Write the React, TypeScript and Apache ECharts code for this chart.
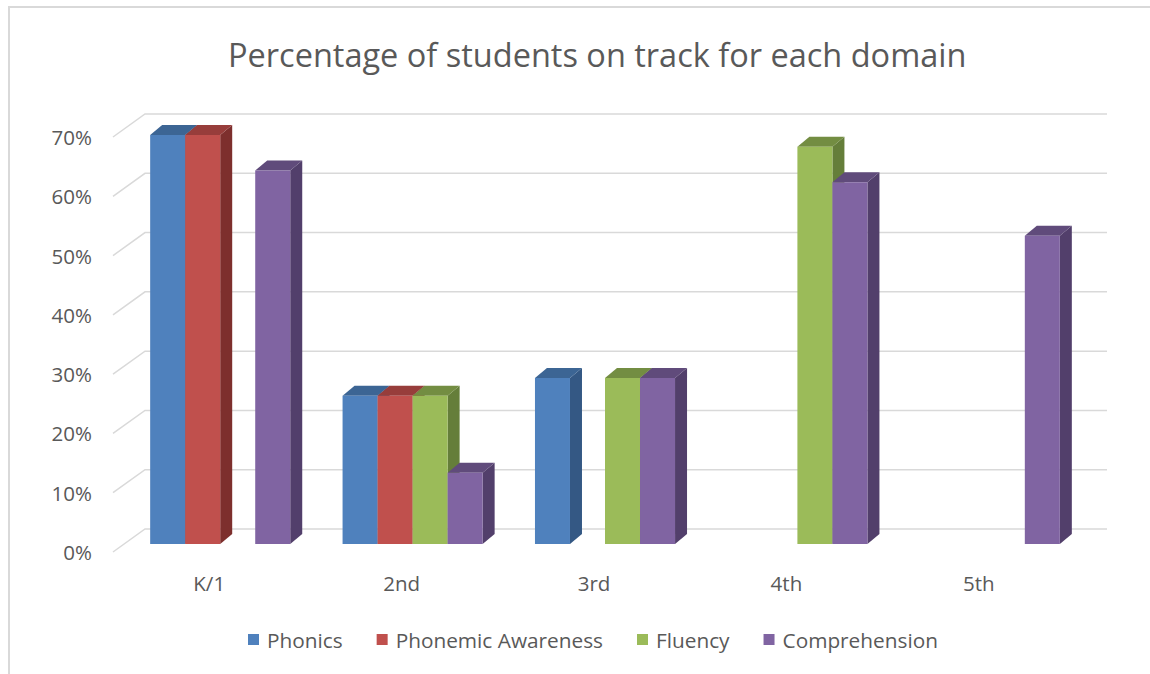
import React, { useEffect, useRef } from "react";
import * as echarts from "echarts";

const categories = ["K/1", "2nd", "3rd", "4th", "5th"];
const seriesNames = ["Phonics", "Phonemic Awareness", "Fluency", "Comprehension"];
const phonics = [0.69, 0.25, 0.28, null, null];
const phonemicAwareness = [0.69, 0.25, null, null, null];
const fluency = [null, 0.25, 0.28, 0.67, null];
const comprehension = [0.63, 0.12, 0.28, 0.61, 0.52];
const yTicks = [0, 0.1, 0.2, 0.3, 0.4, 0.5, 0.6, 0.7];
const titleText = "Percentage of students on track for each domain";

const frontColors = ["#4F81BD", "#C0504D", "#9BBB59", "#8064A2"];
const topColors = ["#3C6594", "#973D3B", "#738D42", "#604B7B"];
const sideColors = ["#345884", "#7D2F2D", "#657E3A", "#523F6B"];

const DX = 12;
const DY = -10;
const FONT = "Open Sans";
const TEXT = "#595959";

function makeBarRender(s: number) {
  return (params: any, api: any) => {
    const v = api.value(1);
    if (v == null || isNaN(v)) return null;
    const c = api.value(0);
    const top = api.coord([c, v]);
    const base = api.coord([c, 0]);
    const band = api.size([1, 0])[0];
    const w = band * 0.182;
    const x0 = top[0] - 2 * w + s * w;
    const yT = top[1];
    const yB = base[1];
    return {
      type: "group",
      children: [
        {
          type: "polygon",
          shape: { points: [[x0 + w, yT], [x0 + w + DX, yT + DY], [x0 + w + DX, yB + DY], [x0 + w, yB]] },
          style: { fill: sideColors[s] },
        },
        {
          type: "polygon",
          shape: { points: [[x0, yT], [x0 + DX, yT + DY], [x0 + w + DX, yT + DY], [x0 + w, yT]] },
          style: { fill: topColors[s] },
        },
        {
          type: "rect",
          shape: { x: x0, y: yT, width: w, height: yB - yT },
          style: { fill: frontColors[s] },
        },
      ],
    };
  };
}

export default function App() {
  const ref = useRef<HTMLDivElement>(null);
  useEffect(() => {
    if (!ref.current) return;
    const chart = echarts.init(ref.current, null, { renderer: "svg" });
    const allSeries = [phonics, phonemicAwareness, fluency, comprehension];
    const option: any = {
      animation: false,
      backgroundColor: "#ffffff",
      title: {
        text: titleText,
        left: 223,
        top: 33,
        textStyle: { fontFamily: FONT, fontSize: 32.5, fontWeight: "normal", color: TEXT },
      },
      legend: {
        data: seriesNames,
        left: 243,
        top: 624,
        icon: "rect",
        itemWidth: 11,
        itemHeight: 11,
        itemGap: 34,
        textStyle: { fontFamily: FONT, fontSize: 20.8, color: TEXT, padding: [0, 0, 0, 3] },
      },
      graphic: [
        {
          type: "rect",
          shape: { x: 9, y: 7, width: 1300, height: 800 },
          style: { fill: "none", stroke: "#D9D9D9", lineWidth: 2 },
          silent: true,
        },
      ],
      grid: [
        { left: 124, right: 64, top: 129, bottom: 130, containLabel: false, outerBoundsMode: "none" },
        { left: 113, right: 75, top: 137, bottom: 122, containLabel: false, outerBoundsMode: "none" },
      ],
      xAxis: [
        { type: "category", gridIndex: 0, data: categories, show: false },
        {
          type: "category",
          gridIndex: 1,
          data: categories,
          axisLine: { show: false },
          axisTick: { show: false },
          axisLabel: { margin: 20, fontFamily: FONT, fontSize: 20.5, color: TEXT },
        },
      ],
      yAxis: [
        { type: "value", gridIndex: 0, min: 0, max: 0.7, interval: 0.1, show: false },
        {
          type: "value",
          gridIndex: 1,
          min: 0,
          max: 0.7,
          interval: 0.1,
          axisLine: { show: false },
          axisTick: { show: false },
          splitLine: { show: false },
          axisLabel: {
            margin: 21,
            fontFamily: FONT,
            fontSize: 20.5,
            color: TEXT,
            formatter: (v: number) => Math.round(v * 100) + "%",
          },
        },
      ],
      series: [
        {
          type: "custom",
          xAxisIndex: 0,
          yAxisIndex: 0,
          silent: true,
          z: 1,
          encode: { x: 0, y: 1 },
          data: yTicks.map((t) => [0, t]),
          renderItem: (params: any, api: any) => {
            const cs = params.coordSys;
            const y = api.coord([0, api.value(1)])[1];
            return {
              type: "polyline",
              shape: { points: [[cs.x - 11, y + 8], [cs.x + 21, y - 15], [cs.x + cs.width + 21, y - 15]] },
              style: { stroke: "#D9D9D9", lineWidth: 1.5, fill: null },
            };
          },
        },
        ...allSeries.map((vals, s) => ({
          type: "custom",
          name: seriesNames[s],
          xAxisIndex: 0,
          yAxisIndex: 0,
          z: 2,
          itemStyle: { color: frontColors[s] },
          encode: { x: 0, y: 1 },
          data: vals.map((v, i) => [i, v == null ? NaN : v]),
          renderItem: makeBarRender(s),
        })),
      ],
    };
    chart.setOption(option);
    return () => chart.dispose();
  }, []);
  return (
    <div
      ref={ref}
      style={{ position: "fixed", left: 0, top: 0, width: 1150, height: 674, background: "#fff" }}
    />
  );
}
